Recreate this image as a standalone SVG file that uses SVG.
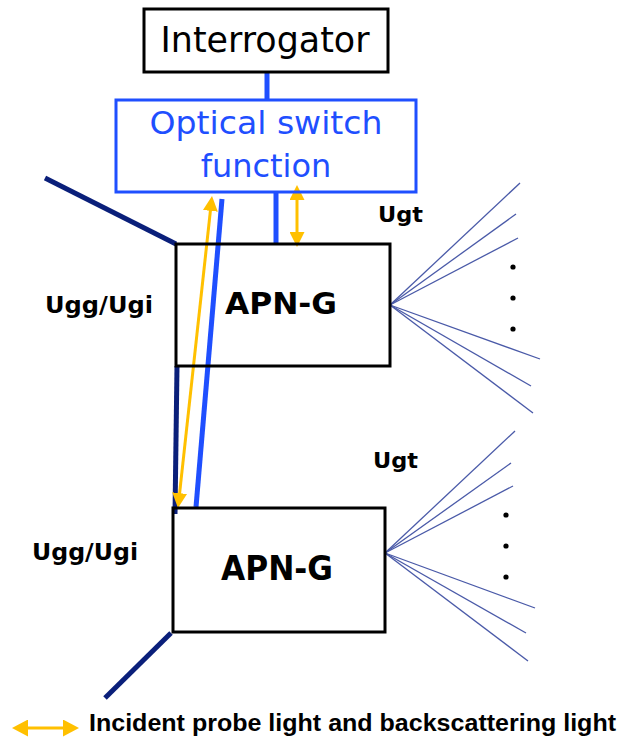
<svg xmlns="http://www.w3.org/2000/svg" width="621" height="738" viewBox="0 0 621 738">
<style>
.box{fill:none;stroke:#000;stroke-width:3}
.sw{fill:none;stroke:#1f4fff;stroke-width:3}
.blue{stroke:#1f4fff;stroke-width:5;fill:none}
.navy{stroke:#0a1f7a;stroke-width:5;fill:none}
.yel{stroke:#ffc000;stroke-width:3;fill:none}
.fan{stroke:#4a5aa8;stroke-width:1.3;fill:none}
.t{font-family:"DejaVu Sans",Verdana,sans-serif;fill:#000}
.b{font-family:"DejaVu Sans",Verdana,sans-serif;font-weight:bold;fill:#000}
</style>
<defs>
<marker id="ah" viewBox="0 0 15 15" refX="2" refY="7.5" markerWidth="15" markerHeight="15" markerUnits="userSpaceOnUse" orient="auto-start-reverse">
<path d="M0,0 L15,7.5 L0,15 z" fill="#ffc000"/>
</marker>
<marker id="ahl" viewBox="0 0 16 17" refX="2" refY="8.5" markerWidth="16" markerHeight="17" markerUnits="userSpaceOnUse" orient="auto-start-reverse">
<path d="M0,0 L16,8.5 L0,17 z" fill="#ffc000"/>
</marker>
</defs>
<g id="connectors">
<line class="navy" x1="45" y1="178" x2="176" y2="244"/>
<line class="navy" x1="177" y1="366" x2="175" y2="514"/>
<line class="navy" x1="171" y1="633" x2="105" y2="698"/>
<line class="blue" x1="267" y1="72" x2="267" y2="99"/>
<line class="blue" x1="276" y1="193" x2="276" y2="243"/>
<line class="blue" x1="222" y1="199" x2="196" y2="507"/>
<line class="yel" x1="210.6" y1="208.9" x2="179.4" y2="495.1" marker-start="url(#ah)" marker-end="url(#ah)"/>
<line class="yel" x1="297" y1="198" x2="297" y2="234" marker-start="url(#ah)" marker-end="url(#ah)"/>
<g id="fan1">
<line class="fan" x1="390" y1="305" x2="520" y2="183"/>
<line class="fan" x1="390" y1="305" x2="516" y2="214"/>
<line class="fan" x1="390" y1="305" x2="518" y2="238"/>
<line class="fan" x1="390" y1="305" x2="540" y2="359"/>
<line class="fan" x1="390" y1="305" x2="531" y2="386"/>
<line class="fan" x1="390" y1="305" x2="533" y2="413"/>
<circle cx="513" cy="267" r="2.6" fill="#000"/>
<circle cx="513" cy="298" r="2.6" fill="#000"/>
<circle cx="513" cy="329" r="2.6" fill="#000"/>
</g>
<g id="fan2">
<line class="fan" x1="385" y1="553" x2="515" y2="431"/>
<line class="fan" x1="385" y1="553" x2="511" y2="463"/>
<line class="fan" x1="385" y1="553" x2="513" y2="486"/>
<line class="fan" x1="385" y1="553" x2="535" y2="608"/>
<line class="fan" x1="385" y1="553" x2="526" y2="633"/>
<line class="fan" x1="385" y1="553" x2="528" y2="661"/>
<circle cx="506" cy="515" r="2.6" fill="#000"/>
<circle cx="506" cy="546" r="2.6" fill="#000"/>
<circle cx="506" cy="577" r="2.6" fill="#000"/>
</g>
</g>
<g id="interrogator">
<rect class="box" x="144" y="9" width="244" height="63"/>
<text class="t" x="265" y="52" font-size="35" text-anchor="middle" textLength="209" lengthAdjust="spacingAndGlyphs">Interrogator</text>
</g>
<g id="switch">
<rect class="sw" x="116" y="100" width="300" height="92"/>
<text class="t" x="266" y="134" font-size="32" text-anchor="middle" style="fill:#1f4fff" textLength="233" lengthAdjust="spacingAndGlyphs">Optical switch</text>
<text class="t" x="266" y="177" font-size="32" text-anchor="middle" style="fill:#1f4fff">function</text>
</g>
<g id="apn1">
<rect class="box" x="176" y="244" width="214" height="122"/>
<text class="b" x="281" y="314" font-size="31" text-anchor="middle" textLength="112" lengthAdjust="spacingAndGlyphs">APN-G</text>
</g>
<g id="apn2">
<rect class="box" x="173" y="508" width="212" height="124"/>
<text class="b" x="277" y="580" font-size="33" text-anchor="middle" textLength="112" lengthAdjust="spacingAndGlyphs">APN-G</text>
</g>
<g id="labels">
<text class="b" x="378" y="222" font-size="22" textLength="45" lengthAdjust="spacingAndGlyphs">Ugt</text>
<text class="b" x="373" y="468" font-size="22" textLength="45" lengthAdjust="spacingAndGlyphs">Ugt</text>
<text class="b" x="45" y="313" font-size="23" textLength="108" lengthAdjust="spacingAndGlyphs">Ugg/Ugi</text>
<text class="b" x="32" y="560" font-size="23" textLength="106" lengthAdjust="spacingAndGlyphs">Ugg/Ugi</text>
</g>
<g id="legend">
<line class="yel" x1="26" y1="728" x2="65" y2="728" marker-start="url(#ahl)" marker-end="url(#ahl)"/>
<text x="89" y="731" font-family="'Liberation Sans Narrow','Liberation Sans',Arial,sans-serif" font-weight="bold" font-size="23" textLength="527" lengthAdjust="spacingAndGlyphs">Incident probe light and backscattering light</text>
</g>
</svg>
